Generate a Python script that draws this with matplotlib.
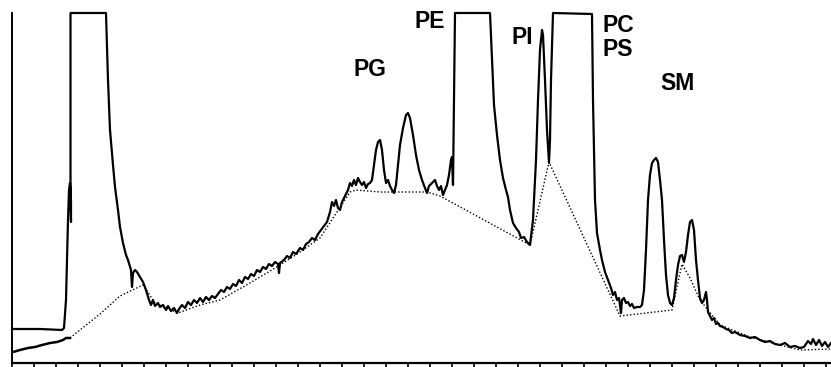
import matplotlib.pyplot as plt

# densitometer scan, x = scan distance (arbitrary units), y = response (arbitrary units)
scan_px = [12, 40, 62, 64, 66, 67, 68, 69, 70, 71, 71, 70.5, 70.5,
           106, 108, 110, 113, 115, 118, 120, 123, 126, 128, 131, 132, 133, 135, 137, 140, 143, 146, 149,
           151, 153, 155, 158, 160, 163, 166, 168, 171, 174, 177, 179, 182, 185, 188, 191, 194, 197,
           200, 203, 206, 209, 212, 215, 218, 221, 224, 227, 230, 233, 236, 239, 242, 245, 248, 251,
           254, 257, 260, 263, 266, 269, 272, 275, 278, 279, 280, 284, 287, 290, 293, 296, 300, 303,
           306, 309, 312, 315, 318, 321, 324, 327, 330, 332, 334, 336, 338, 340, 342, 345, 348, 350,
           352, 354, 356, 358, 360, 362, 364, 366, 368, 370, 372, 374, 376, 378, 380, 382, 384, 386,
           388, 390, 392, 394, 396, 398, 400, 403, 406, 408, 410, 413, 416, 419, 422, 425, 427, 429,
           432, 435, 437, 439, 441, 443, 445, 447, 449, 451, 452, 453, 454, 455,
           490, 492, 494, 497, 500, 503, 506, 508, 510, 513, 516, 519, 521, 524, 527, 530, 533, 536,
           538, 540, 542, 543, 545, 547, 549, 550, 551, 553,
           592, 593, 594, 595, 597, 600, 602, 605, 608, 611, 613, 615, 617, 619, 621, 622, 624, 626,
           628, 630, 632, 634, 637, 640, 642, 644, 646, 648, 650, 652, 654, 656, 658, 660, 662, 664,
           666, 668, 670, 672, 674, 676, 678, 680, 682, 684, 686, 688, 690, 692, 694, 696, 698, 700,
           702, 704, 706, 707, 708, 710, 712, 714, 716, 718, 720, 723, 726, 729, 732, 735, 740, 745,
           750, 755, 760, 765, 770, 775, 780, 785, 790, 795, 800, 804, 808, 811, 813, 816, 819, 822,
           825, 828, 831]
scan_py = [329, 329, 330, 328, 300, 260, 220, 190, 183, 200, 222, 200, 13,
           13, 80, 130, 165, 187, 210, 227, 243, 255, 260, 270, 287, 273, 270, 272, 277, 282, 290, 300,
           305, 300, 306, 303, 307, 305, 310, 306, 311, 308, 313, 309, 305, 308, 302, 305, 300, 303,
           298, 302, 297, 300, 296, 298, 294, 290, 292, 287, 289, 284, 286, 280, 283, 277, 279, 274,
           276, 270, 272, 267, 269, 264, 266, 262, 264, 273, 263, 260, 256, 258, 252, 254, 248, 250,
           244, 242, 238, 240, 234, 230, 226, 222, 212, 202, 206, 200, 208, 210, 202, 196, 190, 183,
           186, 180, 185, 178, 182, 185, 182, 188, 184, 183, 180, 165, 150, 142, 140, 150, 170, 183,
           180, 186, 190, 193, 185, 165, 145, 128, 115, 113, 118, 135, 155, 170, 180, 188, 193, 186,
           183, 180, 186, 190, 186, 195, 190, 185, 175, 160, 157, 185, 100, 13,
           13, 60, 105, 135, 160, 178, 190, 197, 210, 223, 228, 232, 238, 237, 242, 245, 220, 160,
           100, 50, 30, 35, 80, 130, 163, 140, 80, 13,
           14, 100, 150, 200, 233, 250, 260, 272, 280, 288, 295, 292, 300, 298, 313, 300, 298, 303,
           302, 306, 304, 308, 307, 307, 305, 290, 250, 200, 175, 163, 160, 158, 162, 180, 200, 240,
           275, 295, 303, 305, 298, 280, 265, 256, 255, 262, 252, 235, 222, 220, 230, 260, 280, 298,
           303, 300, 292, 300, 312, 316, 320, 318, 324, 323, 326, 327, 329, 330, 333, 332, 335, 336,
           338, 337, 340, 342, 341, 344, 345, 343, 347, 346, 348, 347, 341, 344, 339, 345, 340, 346,
           342, 347, 343]

# lower (unshifted) start of the trace
start_px = [13, 20, 28, 35, 42, 50, 57, 63, 66, 70]
start_py = [352, 350, 348, 347, 345, 343, 342, 340, 338, 338]

# drawn baseline
base_px = [70, 85, 100, 120, 143, 155, 178, 200, 220, 250, 280, 300, 320, 335, 350, 356, 380, 427,
           440, 530, 549, 620, 672, 682, 690, 700, 720, 750, 780, 800, 831]
base_py = [338, 326, 314, 296, 285, 303, 313, 305, 300, 283, 265, 252, 238, 215, 192, 190, 192, 192,
           196, 245, 162, 316, 310, 264, 278, 300, 325, 337, 345, 350, 349]

labels = ['PG', 'PE', 'PI', 'PC', 'PS', 'SM']
label_px = [370, 430, 522, 618, 618, 677]
label_py = [70, 22, 38, 25, 50, 84]

x = [p - 12 for p in scan_px]
y = [363 - p for p in scan_py]

fig = plt.figure(figsize=(8.31, 3.67), dpi=100)
ax = fig.add_axes([12 / 831, 4 / 367, 819 / 831, 350 / 367])

ax.plot([p - 12 for p in base_px], [363 - p for p in base_py], color='black', lw=1.0,
        linestyle=(0, (1, 1.5)))
ax.plot([p - 12 for p in start_px], [363 - p for p in start_py], color='black', lw=1.8)
ax.plot(x, y, color='black', lw=1.6, clip_on=False)

for t, lx, ly in zip(labels, label_px, label_py):
    ax.text(lx - 12, 363 - ly, t, fontsize=16.5, fontweight='bold', family='Liberation Sans',
            ha='center', va='center')

ax.set_xlim(0, 819)
ax.set_ylim(0, 350)
ax.set_xticks(range(0, 820, 22))
ax.set_xticklabels([])
ax.set_yticks([])
ax.tick_params(axis='x', direction='out', length=4, width=1.2)
ax.spines['top'].set_visible(False)
ax.spines['right'].set_visible(False)
ax.spines['bottom'].set_linewidth(1.6)
ax.spines['left'].set_linewidth(1.4)

fig.savefig('out.png', dpi=100)
